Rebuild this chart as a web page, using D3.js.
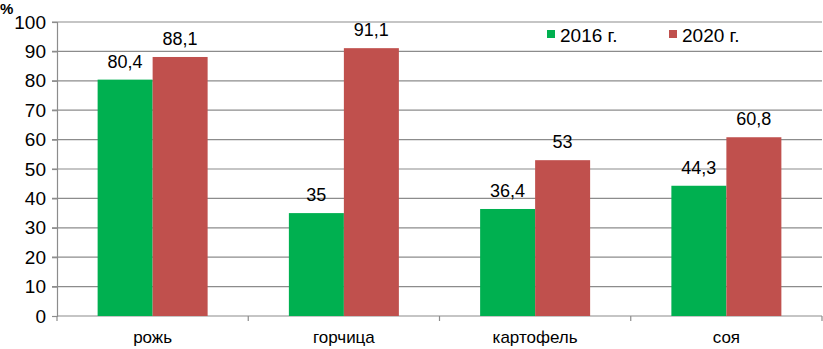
<!DOCTYPE html>
<html lang="ru">
<head>
<meta charset="utf-8">
<title>Bars</title>
<script src="https://cdn.jsdelivr.net/npm/d3@7"></script>
<style>
  body { margin: 0; background: #fff; }
  text { font-family: "Liberation Sans", Arial, sans-serif; fill: #000; }
</style>
</head>
<body>
<div id="chart"></div>
<script>
const crops = ["рожь", "горчица", "картофель", "соя"]
const years = ["2016 г.", "2020 г."]
const v2016 = [80.4, 35, 36.4, 44.3]
const v2020 = [88.1, 91.1, 53, 60.8]
const yTicks = [0, 10, 20, 30, 40, 50, 60, 70, 80, 90, 100]
const colors = ["#00b050", "#c0504d"]

const width = 823, height = 349
const mLeft = 57, mRight = 822, mTop = 22, mBottom = 316

const svg = d3.select("#chart").append("svg")
  .attr("width", width).attr("height", height)

const x = d3.scaleBand().domain(crops).range([mLeft, mRight])
const inner = d3.scaleBand().domain(years).range([0, 110])
const y = d3.scaleLinear().domain([0, 100]).range([mBottom, mTop])

// grid
svg.append("g").selectAll("line")
  .data(yTicks.filter(d => d > 0))
  .enter().append("line")
  .attr("x1", mLeft - 5).attr("x2", mRight)
  .attr("y1", d => y(d)).attr("y2", d => y(d))
  .attr("stroke", "#8c8c8c").attr("stroke-width", 1.2)

// y axis
const yAxis = svg.append("g")
  .attr("transform", "translate(" + mLeft + ",0)")
  .call(d3.axisLeft(y).tickValues(yTicks).tickSize(5).tickPadding(6))
yAxis.select(".domain").attr("stroke", "#8c8c8c").attr("stroke-width", 1.2)
yAxis.selectAll(".tick line").attr("stroke", "#8c8c8c").attr("stroke-width", 1.2)
yAxis.selectAll("text").style("font-size", "19px")
  .style("font-family", "Liberation Sans, Arial, sans-serif").attr("fill", "#000")

// x axis
svg.append("line")
  .attr("x1", mLeft).attr("x2", mRight)
  .attr("y1", mBottom).attr("y2", mBottom)
  .attr("stroke", "#8c8c8c").attr("stroke-width", 1.2)
svg.append("g").selectAll("line")
  .data(crops.concat(["end"]))
  .enter().append("line")
  .attr("x1", (d, i) => mLeft + i * x.bandwidth())
  .attr("x2", (d, i) => mLeft + i * x.bandwidth())
  .attr("y1", mBottom).attr("y2", mBottom + 5)
  .attr("stroke", "#8c8c8c").attr("stroke-width", 1.2)

svg.append("g").selectAll("text")
  .data(crops)
  .enter().append("text")
  .attr("x", d => x(d) + x.bandwidth() / 2)
  .attr("y", 343)
  .attr("text-anchor", "middle")
  .style("font-size", "17px")
  .text(d => d)

// bars
const series = [v2016, v2020]
series.forEach((vals, s) => {
  const off = x.bandwidth() / 2 - 55 + inner(years[s])
  svg.append("g").selectAll("rect")
    .data(vals)
    .enter().append("rect")
    .attr("x", (d, i) => x(crops[i]) + off)
    .attr("y", d => y(d))
    .attr("width", inner.bandwidth())
    .attr("height", d => mBottom - y(d))
    .attr("fill", colors[s])

  svg.append("g").selectAll("text")
    .data(vals)
    .enter().append("text")
    .attr("x", (d, i) => x(crops[i]) + off + inner.bandwidth() / 2)
    .attr("y", d => y(d) - 12)
    .attr("text-anchor", "middle")
    .style("font-size", "18px")
    .text(d => String(d).replace(".", ","))
})

// legend
const legend = svg.append("g")
years.forEach((yr, i) => {
  const lx = 547 + i * 122
  legend.append("rect")
    .attr("x", lx).attr("y", 30)
    .attr("width", 8).attr("height", 8)
    .attr("fill", colors[i])
  legend.append("text")
    .attr("x", lx + 13).attr("y", 42)
    .style("font-size", "19px")
    .text(yr)
})

svg.append("text")
  .attr("x", 0).attr("y", 14)
  .style("font-size", "15px").style("font-weight", "bold")
  .text("%")
</script>
</body>
</html>
